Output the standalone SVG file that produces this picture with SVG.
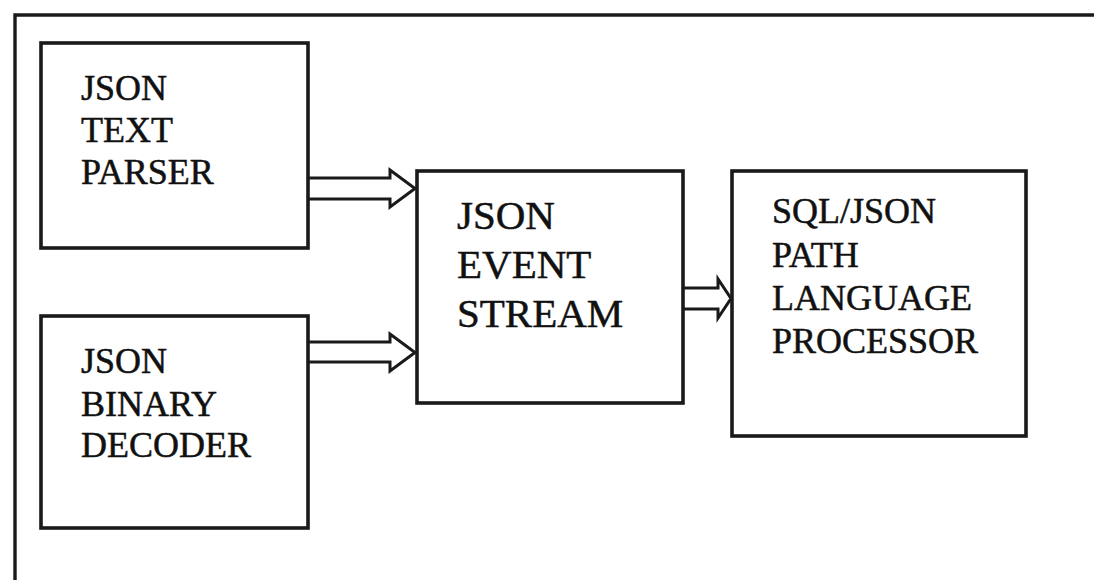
<svg xmlns="http://www.w3.org/2000/svg" width="1094" height="580" viewBox="0 0 1094 580">
  <style>
    .frame { fill: none; stroke: #1a1a1a; stroke-width: 3.4; }
    .box { fill: #ffffff; stroke: #1a1a1a; stroke-width: 3.6; }
    .arrow { fill: none; stroke: #1a1a1a; stroke-width: 3; stroke-linejoin: miter; }
    .label { font-family: "Liberation Serif", "Times New Roman", serif; font-size: 36px; fill: #111111; stroke: #111111; stroke-width: 0.5; }
    .label-lg { font-family: "Liberation Serif", "Times New Roman", serif; font-size: 41px; fill: #111111; stroke: #111111; stroke-width: 0.5; }
  </style>
  <rect x="0" y="0" width="1094" height="580" fill="#ffffff"/>

  <!-- open outer frame (top and left edges only) -->
  <path class="frame" d="M15,580 V15 H1094"/>

  <g id="node-text-parser">
    <rect class="box" x="41" y="43" width="267" height="205"/>
    <text class="label" x="81" y="100">JSON</text>
    <text class="label" x="81" y="142">TEXT</text>
    <text class="label" x="81" y="184">PARSER</text>
  </g>

  <g id="node-binary-decoder">
    <rect class="box" x="41" y="316" width="267" height="212"/>
    <text class="label" x="81" y="373">JSON</text>
    <text class="label" x="81" y="416">BINARY</text>
    <text class="label" x="81" y="457">DECODER</text>
  </g>

  <g id="node-event-stream">
    <rect class="box" x="417" y="171" width="266" height="232"/>
    <text class="label-lg" x="457" y="229">JSON</text>
    <text class="label-lg" x="457" y="278">EVENT</text>
    <text class="label-lg" x="457" y="327">STREAM</text>
  </g>

  <g id="node-path-processor">
    <rect class="box" x="732" y="171" width="294" height="265"/>
    <text class="label" x="772" y="223">SQL/JSON</text>
    <text class="label" x="772" y="267">PATH</text>
    <text class="label" x="772" y="310">LANGUAGE</text>
    <text class="label" x="772" y="353">PROCESSOR</text>
  </g>

  <!-- hollow double-line arrows between nodes -->
  <g id="connectors">
    <path class="arrow" d="M309,178 H390 V170 L415,188.5 L390,207 V199 H309"/>
    <path class="arrow" d="M309,342 H390 V334 L415,352.5 L390,371 V362 H309"/>
    <path class="arrow" d="M684,288 H718 V279 L731,298.5 L718,318 V309 H684"/>
  </g>
</svg>
